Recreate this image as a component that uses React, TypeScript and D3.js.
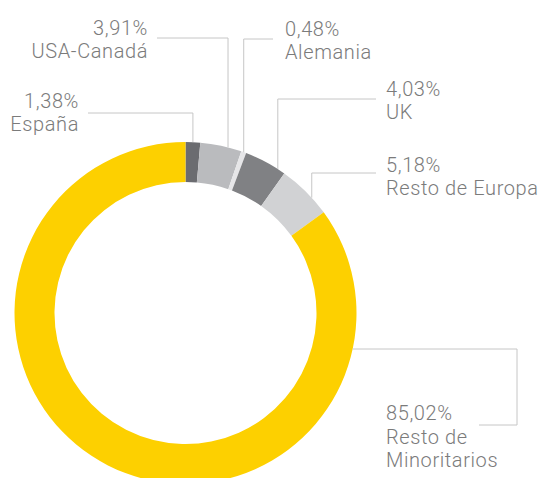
import * as d3 from "d3";

const categories = ["España", "USA-Canadá", "Alemania", "UK", "Resto de Europa", "Resto de Minoritarios"];
const values = [1.38, 3.91, 0.48, 4.03, 5.18, 85.02];
const valueLabels = ["1,38%", "3,91%", "0,48%", "4,03%", "5,18%", "85,02%"];
const nameLines = [["España"], ["USA-Canadá"], ["Alemania"], ["UK"], ["Resto de Europa"], ["Resto de", "Minoritarios"]];
const colors = ["#6b6c70", "#babbbe", "#e6e6e8", "#808184", "#d1d2d4", "#fdd000"];

// where each leader line leaves the ring (fraction along the slice) and where its label sits
const labelLayout = [
  { frac: 0.5, elbowY: 113, lineEnd: 88, textX: 79, textY: 108, anchor: "end" },
  { frac: 0.67, elbowY: 38, lineEnd: 157, textX: 148, textY: 35, anchor: "end" },
  { frac: 0.5, elbowY: 39, lineEnd: 273, textX: 285, textY: 36, anchor: "start" },
  { frac: 0.82, elbowY: 99, lineEnd: 376, textX: 386, textY: 96, anchor: "start" },
  { frac: 0.66, elbowY: 173, lineEnd: 376, textX: 386, textY: 172, anchor: "start" },
];

const width = 541;
const height = 478;
const cx = 185.5;
const cy = 313;
const outerR = 171;
const innerR = 131;
const lineColor = "#c6c6c6";
const textColor = "#7b7b7b";
const textStyle = {
  fontFamily: "Roboto, 'Open Sans', sans-serif",
  fontSize: 20,
  fontWeight: 300,
  letterSpacing: "0.6px",
};

export default function App() {
  const pie = d3.pie<number>().sort(null).startAngle(0).endAngle(2 * Math.PI);
  const arcs = pie(values);
  const arc = d3.arc<d3.PieArcDatum<number>>().innerRadius(innerR).outerRadius(outerR);

  const onRing = (a: number) => [cx + outerR * Math.sin(a), cy - outerR * Math.cos(a)];

  const small = arcs.slice(0, 5).map((d, i) => {
    const l = labelLayout[i];
    const a = d.startAngle + l.frac * (d.endAngle - d.startAngle);
    const [x, y] = onRing(a);
    return { x, y, l, i };
  });

  // big slice: horizontal line out of the right side, down, and back
  const bigY = 349;
  const bigX = cx + Math.sqrt(outerR * outerR - (bigY - cy) ** 2);

  return (
    <svg width={width} height={height} style={{ position: "absolute", left: 0, top: 0 }}>
      <g transform={`translate(${cx},${cy})`}>
        {arcs.map((d, i) => (
          <path key={categories[i]} d={arc(d) || ""} fill={colors[i]} />
        ))}
      </g>
      {small.map(({ x, y, l, i }) => (
        <g key={i}>
          <polyline
            points={`${x},${y} ${x},${l.elbowY} ${l.lineEnd},${l.elbowY}`}
            fill="none"
            stroke={lineColor}
            strokeWidth={1}
          />
          <text x={l.textX} y={l.textY} textAnchor={l.anchor} fill={textColor} style={textStyle}>
            <tspan x={l.textX}>{valueLabels[i]}</tspan>
            {nameLines[i].map((t, k) => (
              <tspan key={k} x={l.textX} dy={23}>{t}</tspan>
            ))}
          </text>
        </g>
      ))}
      <polyline
        points={`${bigX},${bigY} 517,${bigY} 517,425 479,425`}
        fill="none"
        stroke={lineColor}
        strokeWidth={1}
      />
      <text x={386} y={420} fill={textColor} style={textStyle}>
        <tspan x={386}>{valueLabels[5]}</tspan>
        {nameLines[5].map((t, k) => (
          <tspan key={k} x={386} dy={23.5}>{t}</tspan>
        ))}
      </text>
    </svg>
  );
}
